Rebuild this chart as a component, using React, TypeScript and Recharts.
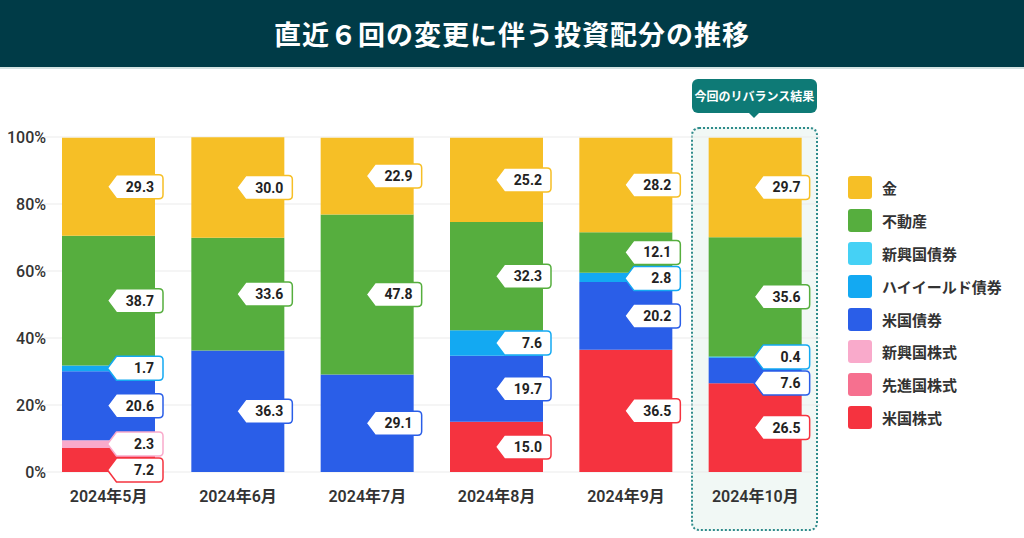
import { Bar, BarChart, CartesianGrid, LabelList, XAxis, YAxis } from "recharts";

const months = ["2024年5月", "2024年6月", "2024年7月", "2024年8月", "2024年9月", "2024年10月"];

// stacked bottom -> top
const usStocks = [7.2, 0, 0, 15.0, 36.5, 26.5];
const devStocks = [0, 0, 0, 0, 0, 0];
const emStocks = [2.3, 0, 0, 0, 0, 0];
const usBonds = [20.6, 36.3, 29.1, 19.7, 20.2, 7.6];
const highYield = [1.7, 0, 0, 7.6, 2.8, 0.4];
const emBonds = [0, 0, 0, 0, 0, 0];
const realEstate = [38.7, 33.6, 47.8, 32.3, 12.1, 35.6];
const gold = [29.3, 30.0, 22.9, 25.2, 28.2, 29.7];

const yTicks = [0, 20, 40, 60, 80, 100];

const series = [
  { key: "usStocks", name: "米国株式", color: "#F5333F", values: usStocks },
  { key: "devStocks", name: "先進国株式", color: "#F6708F", values: devStocks },
  { key: "emStocks", name: "新興国株式", color: "#F9AACB", values: emStocks },
  { key: "usBonds", name: "米国債券", color: "#2A5EE8", values: usBonds },
  { key: "highYield", name: "ハイイールド債券", color: "#13A9F2", values: highYield },
  { key: "emBonds", name: "新興国債券", color: "#45D1F5", values: emBonds },
  { key: "realEstate", name: "不動産", color: "#56AE3E", values: realEstate },
  { key: "gold", name: "金", color: "#F6BF26", values: gold }
];

const data = months.map((month, i) => {
  const row: Record<string, string | number> = { month };
  series.forEach((s) => (row[s.key] = s.values[i]));
  return row;
});

const FONT = "Roboto, 'Noto Sans CJK JP', sans-serif";

// draws every label of a column, hung off the top (gold) segment so they sit above all bars
function ColumnLabels(props: any) {
  const { x, y, width, height, value, index } = props;
  if (!value || !height) return null;
  const pxPerPct = height / value;
  let base = 0;
  const items = series.map((s) => {
    const v = s.values[index];
    const item = { v, color: s.color, center: base + v / 2 };
    base += v;
    return item;
  });
  const goldBase = base - value;
  const bottomY = y + height + goldBase * pxPerPct;
  const shown = items.filter((it) => it.v > 0).reverse();
  const minGap = 26 / pxPerPct;
  const adjusted: number[] = [];
  shown.forEach((it, i) => {
    adjusted.push(i === 0 ? it.center : Math.min(it.center, adjusted[i - 1] - minGap));
  });
  const tip = x + width / 2 - 1;
  const right = x + width + 8;
  const h = 24;
  return (
    <g>
      {shown.map((it, i) => {
        const cy = bottomY - adjusted[i] * pxPerPct;
        const top = cy - h / 2;
        const bot = cy + h / 2;
        const d = `M${tip},${cy} L${tip + 9},${top} L${right - 4},${top} Q${right},${top} ${right},${top + 4} L${right},${bot - 4} Q${right},${bot} ${right - 4},${bot} L${tip + 9},${bot} Z`;
        return (
          <g key={i}>
            <path d={d} fill="#fff" stroke={it.color} strokeWidth={1.5} strokeLinejoin="round" />
            <text x={right - 9} y={cy} textAnchor="end" dominantBaseline="central" fontSize={14} fontWeight={700} fill="#222" fontFamily={FONT}>
              {it.v.toFixed(1)}
            </text>
          </g>
        );
      })}
    </g>
  );
}

export default function App() {
  return (
    <div style={{ position: "relative", width: 1024, height: 538, background: "#fff", fontFamily: FONT, overflow: "hidden" }}>
      <style>{`body{margin:0}`}</style>
      <div
        style={{
          position: "absolute",
          left: 0,
          top: 0,
          width: 1024,
          height: 67,
          background: "#003B47",
          borderBottom: "2px solid #d3e2e2",
          color: "#fff",
          fontSize: 27,
          fontWeight: 700,
          lineHeight: "67px",
          textAlign: "center",
          letterSpacing: 1,
          fontFamily: "'Noto Sans CJK JP', sans-serif"
        }}
      >
        直近６回の変更に伴う投資配分の推移
      </div>

      <div
        style={{
          position: "absolute",
          left: 691,
          top: 127,
          width: 123,
          height: 400,
          border: "2px dotted #2E8B8B",
          borderRadius: 8,
          background: "#F1F8F5"
        }}
      />
      <div
        style={{
          position: "absolute",
          left: 692,
          top: 79,
          width: 125,
          height: 34,
          background: "#0E7A76",
          borderRadius: 6,
          color: "#fff",
          fontSize: 12,
          fontWeight: 700,
          lineHeight: "34px",
          textAlign: "center",
          fontFamily: "'Noto Sans CJK JP', sans-serif"
        }}
      >
        今回のリバランス結果
        <div
          style={{
            position: "absolute",
            left: 57,
            top: 34,
            width: 0,
            height: 0,
            borderLeft: "5px solid transparent",
            borderRight: "5px solid transparent",
            borderTop: "5px solid #0E7A76"
          }}
        />
      </div>

      <div style={{ position: "absolute", left: 0, top: 0 }}>
        <BarChart width={1024} height={538} data={data} margin={{ top: 137, right: 204, bottom: 36, left: 4 }} barSize={93}>
          <CartesianGrid vertical={false} stroke="#ebebeb" />
          <XAxis
            dataKey="month"
            axisLine={false}
            tickLine={false}
            tickSize={0}
            tickMargin={19}
            height={30}
            tick={{ fontSize: 16, fontWeight: 600, fill: "#333", fontFamily: FONT }}
            interval={0}
          />
          <YAxis
            domain={[0, 100]}
            ticks={yTicks}
            tickFormatter={(v) => `${v}%`}
            axisLine={false}
            tickLine={false}
            tickSize={0}
            tickMargin={-2}
            width={40}
            tick={{ fontSize: 16, fontWeight: 500, fill: "#333", fontFamily: FONT }}
          />
          {series.map((s) => (
            <Bar key={s.key} dataKey={s.key} name={s.name} stackId="a" fill={s.color} isAnimationActive={false}>
              {s.key === "gold" ? <LabelList dataKey="gold" content={ColumnLabels} /> : null}
            </Bar>
          ))}
        </BarChart>
      </div>

      <div style={{ position: "absolute", left: 848, top: 171 }}>
        {[...series].reverse().map((s) => (
          <div key={s.key} style={{ display: "flex", alignItems: "center", height: 32.9 }}>
            <div style={{ width: 24, height: 23, borderRadius: 3, background: s.color, marginRight: 10 }} />
            <span style={{ fontSize: 15, fontWeight: 700, color: "#333", fontFamily: "'Noto Sans CJK JP', sans-serif" }}>{s.name}</span>
          </div>
        ))}
      </div>
    </div>
  );
}
